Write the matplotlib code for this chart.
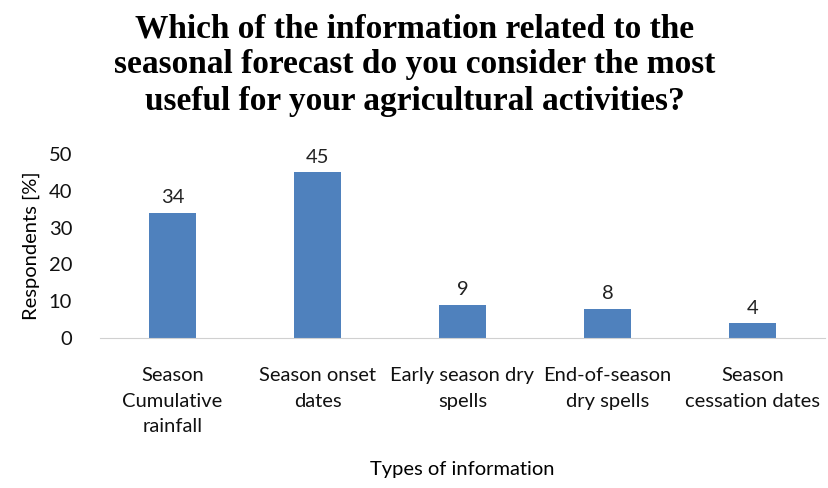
import numpy as np
import matplotlib
matplotlib.use('Agg')
import matplotlib.pyplot as plt

categories = ['Season\nCumulative\nrainfall', 'Season onset\ndates', 'Early season dry\nspells',
              'End-of-season\ndry spells', 'Season\ncessation dates']
values = [34, 45, 9, 8, 4]

plt.rcParams['font.family'] = ['Lato', 'DejaVu Sans']
fs = 14.5

fig = plt.figure(figsize=(8.29, 4.88), dpi=100)
ax = fig.add_axes([100 / 829, 150 / 488, 725 / 829, 184 / 488])

x = np.arange(len(values))
ax.bar(x, values, width=0.32, color='#4f81bd', zorder=2)
for xi, v in zip(x, values):
    ax.text(xi, v + 1.8, str(v), ha='center', va='bottom', fontsize=fs, color='#222222')

ax.set_xlim(-0.5, len(values) - 0.5)
ax.set_ylim(0, 50)
ax.set_yticks(range(0, 51, 10))
ax.set_xticks(x)
ax.set_xticklabels(categories, fontsize=fs, linespacing=1.6, va='top')
ax.tick_params(axis='both', length=0, labelsize=fs, colors='#111111')
ax.tick_params(axis='x', pad=21)
ax.tick_params(axis='y', pad=20)

for side in ['top', 'right', 'left']:
    ax.spines[side].set_visible(False)
ax.spines['bottom'].set_color('#d0d0d0')

ax.set_ylabel('Respondents [%]', fontsize=fs, labelpad=6)
fig.text(0.557, 0.037, 'Types of information', ha='center', va='center', fontsize=fs)

fig.text(0.5, 0.867, 'Which of the information related to the\nseasonal forecast do you consider the most\n'
         'useful for your agricultural activities?', ha='center', va='center',
         family='Liberation Serif', fontweight='bold', fontsize=24, linespacing=1.22)

fig.savefig('out.png', dpi=100)
